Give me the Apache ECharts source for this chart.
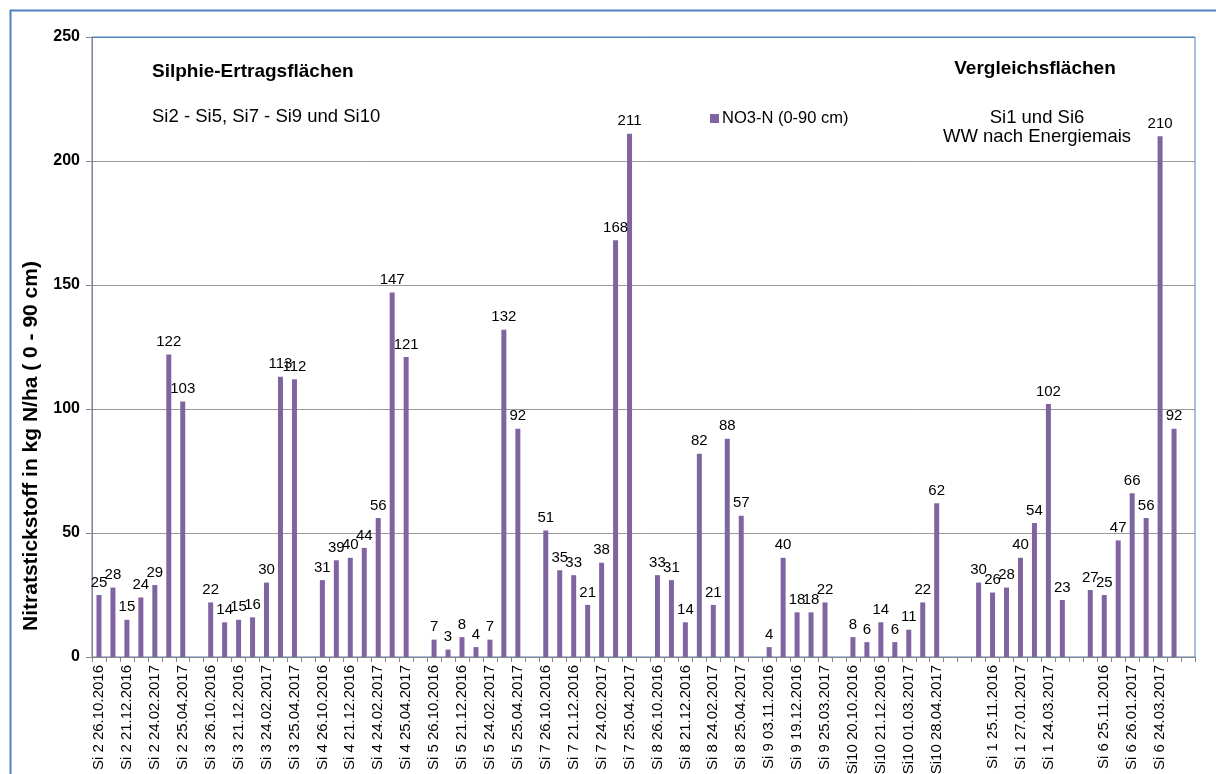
<!DOCTYPE html>
<html>
<head>
<meta charset="utf-8">
<script src="https://cdn.jsdelivr.net/npm/echarts@6/dist/echarts.min.js"></script>
<style>
html,body{margin:0;padding:0;background:#fff;}
#chart{width:1216px;height:774px;}
</style>
</head>
<body>
<div id="chart"></div>
<script>
// ---- data ----
const si2Dates  = ['26.10.2016','23.11.2016','21.12.2016','25.01.2017','24.02.2017','24.03.2017','25.04.2017'];
const si2Values = [25, 28, 15, 24, 29, 122, 103];
const si3Dates  = ['26.10.2016','23.11.2016','21.12.2016','25.01.2017','24.02.2017','24.03.2017','25.04.2017'];
const si3Values = [22, 14, 15, 16, 30, 113, 112];
const si4Dates  = ['26.10.2016','23.11.2016','21.12.2016','25.01.2017','24.02.2017','24.03.2017','25.04.2017'];
const si4Values = [31, 39, 40, 44, 56, 147, 121];
const si5Dates  = ['26.10.2016','23.11.2016','21.12.2016','25.01.2017','24.02.2017','24.03.2017','25.04.2017'];
const si5Values = [7, 3, 8, 4, 7, 132, 92];
const si7Dates  = ['26.10.2016','23.11.2016','21.12.2016','25.01.2017','24.02.2017','24.03.2017','25.04.2017'];
const si7Values = [51, 35, 33, 21, 38, 168, 211];
const si8Dates  = ['26.10.2016','23.11.2016','21.12.2016','25.01.2017','24.02.2017','24.03.2017','25.04.2017'];
const si8Values = [33, 31, 14, 82, 21, 88, 57];
const si9Dates  = ['03.11.2016','24.11.2016','19.12.2016','25.01.2017','25.03.2017'];
const si9Values = [4, 40, 18, 18, 22];
const si10Dates  = ['20.10.2016','23.11.2016','21.12.2016','26.01.2017','01.03.2017','30.03.2017','28.04.2017'];
const si10Values = [8, 6, 14, 6, 11, 22, 62];
const si1Dates  = ['26.10.2016','25.11.2016','22.12.2016','27.01.2017','24.02.2017','24.03.2017','25.04.2017'];
const si1Values = [30, 26, 28, 40, 54, 102, 23];
const si6Dates  = ['26.10.2016','25.11.2016','22.12.2016','26.01.2017','24.02.2017','24.03.2017','25.04.2017'];
const si6Values = [27, 25, 47, 66, 56, 210, 92];

const groupNames  = ['Si 2','Si 3','Si 4','Si 5','Si 7','Si 8','Si 9','Si10','Si 1','Si 6'];
const groupDates  = [si2Dates, si3Dates, si4Dates, si5Dates, si7Dates, si8Dates, si9Dates, si10Dates, si1Dates, si6Dates];
const groupValues = [si2Values, si3Values, si4Values, si5Values, si7Values, si8Values, si9Values, si10Values, si1Values, si6Values];
const emptySlotsAfter = [1, 1, 1, 1, 1, 1, 1, 2, 1, 1];

const yTicks = [0, 50, 100, 150, 200, 250];
const seriesName = 'NO3-N (0-90 cm)';

// ---- build category axis ----
const categories = [];
const values = [];
groupNames.forEach((g, gi) => {
  groupDates[gi].forEach((d, i) => {
    categories.push(g + ' ' + d);
    values.push(groupValues[gi][i]);
  });
  for (let k = 0; k < emptySlotsAfter[gi]; k++) {
    categories.push('');
    values.push(null);
  }
});

const FONT = '"Liberation Sans", Arial, sans-serif';
const chart = echarts.init(document.getElementById('chart'), null, {renderer: 'canvas'});

chart.setOption({
  animation: false,
  textStyle: {fontFamily: FONT},
  grid: {left: 92, right: 21, top: 37, bottom: 117, containLabel: false, outerBoundsMode: 'none',
    show: true, borderColor: '#4F81BD', borderWidth: 1, backgroundColor: 'transparent'},
  xAxis: {
    type: 'category',
    data: categories,
    axisLine: {lineStyle: {color: '#868686', width: 1}},
    axisTick: {show: true, interval: 0, length: 5, lineStyle: {color: '#868686'}},
    axisLabel: {rotate: 90, interval: 1, fontSize: 15, color: '#000', fontFamily: FONT, margin: 8}
  },
  yAxis: {
    type: 'value',
    min: 0, max: 250, interval: 50,
    axisLine: {show: true, lineStyle: {color: '#868686'}},
    axisTick: {show: true, length: 6, lineStyle: {color: '#868686'}},
    axisLabel: {fontSize: 16, fontWeight: 'bold', color: '#000', fontFamily: FONT, margin: 12,
      formatter: v => yTicks.includes(v) ? String(v) : ''},
    splitLine: {show: true, lineStyle: {color: ['#999','#999','#999','#999','#999','#4F81BD'], width: 1}}
  },
  series: [{
    name: seriesName,
    type: 'bar',
    data: values,
    barWidth: 5,
    itemStyle: {color: '#8064A2'},
    label: {show: true, position: 'top', distance: 5, fontSize: 15, color: '#000', fontFamily: FONT}
  }],
  graphic: [
    {type: 'rect', left: 8, top: 8, shape: {width: 1240, height: 820}, style: {fill: 'none', stroke: '#4F81BD', lineWidth: 2}, silent: true},
    {type: 'text', left: 152, top: 62, style: {text: 'Silphie-Ertragsflächen', font: 'bold 19px ' + FONT, fill: '#000'}},
    {type: 'text', left: 152, top: 107, style: {text: 'Si2 - Si5, Si7 - Si9 und Si10', font: '18.5px ' + FONT, fill: '#000'}},
    {type: 'text', x: 1035, y: 69, style: {text: 'Vergleichsflächen', font: 'bold 19px ' + FONT, fill: '#000', align: 'center', verticalAlign: 'middle'}},
    {type: 'text', x: 1037, y: 127, style: {text: 'Si1 und Si6\nWW nach Energiemais', font: '18.5px ' + FONT, fill: '#000', align: 'center', verticalAlign: 'middle', lineHeight: 19}},
    {type: 'rect', left: 710, top: 114, shape: {width: 9, height: 9}, style: {fill: '#8064A2'}},
    {type: 'text', left: 722, top: 110, style: {text: seriesName, font: '16.5px ' + FONT, fill: '#000'}},
    {type: 'text', x: 31, y: 446, rotation: Math.PI / 2, style: {text: 'Nitratstickstoff in kg N/ha ( 0 - 90 cm)', font: 'bold 21px ' + FONT, fill: '#000', align: 'center', verticalAlign: 'middle'}}
  ]
});
</script>
</body>
</html>
